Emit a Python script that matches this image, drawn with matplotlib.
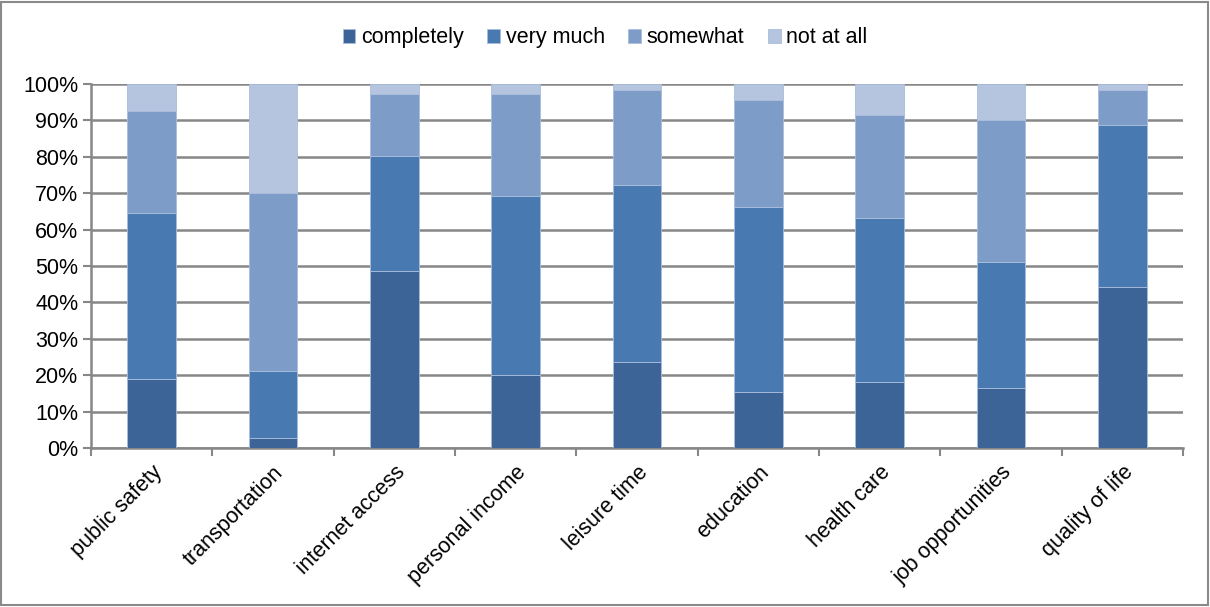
import matplotlib.pyplot as plt
import numpy as np
from matplotlib.patches import Rectangle
from matplotlib.ticker import FuncFormatter

plt.rcParams['font.family'] = ['Liberation Sans', 'DejaVu Sans']

categories = ['public safety', 'transportation', 'internet access', 'personal income',
              'leisure time', 'education', 'health care', 'job opportunities', 'quality of life']
series = ['completely', 'very much', 'somewhat', 'not at all']

# shares (%) per category, stacked bottom to top
completely = [18.9, 2.7, 48.6, 20.1, 23.5, 15.4, 18.0, 16.5, 44.2]
very_much = [45.6, 18.5, 31.7, 49.2, 48.6, 50.8, 45.3, 34.7, 44.6]
somewhat = [28.1, 48.8, 16.8, 27.8, 26.3, 29.5, 28.1, 38.9, 9.6]
not_at_all = [7.4, 30.0, 2.9, 2.9, 1.6, 4.3, 8.6, 9.9, 1.6]

colors = ['#3D6497', '#4879B1', '#7E9CC8', '#B5C4DF']
fs = 15.5

fig = plt.figure(figsize=(12.1, 6.07), dpi=100)
ax = fig.add_axes([0.0752, 0.262, 0.9025, 0.5998])

x = np.arange(len(categories))
bottom = np.zeros(len(categories))
for name, vals, c in zip(series, [completely, very_much, somewhat, not_at_all], colors):
    vals = np.array(vals)
    ax.bar(x, vals, width=0.4, bottom=bottom, color=c, label=name,
           edgecolor='#A9BEDC', linewidth=0.6, zorder=3)
    bottom += vals

ax.set_ylim(0, 100)
ax.set_xlim(-0.5, len(categories) - 0.5)
ax.set_yticks(np.arange(0, 101, 10))
ax.yaxis.set_major_formatter(FuncFormatter(lambda v, p: '%d%%' % v))
ax.yaxis.grid(True, color='#878787', linewidth=1.8, zorder=0)

# category labels between boundary ticks
ax.set_xticks(np.arange(-0.5, len(categories), 1.0))
ax.set_xticklabels([])
ax.set_xticks(x, minor=True)
ax.set_xticklabels(categories, minor=True, rotation=45, ha='right',
                   rotation_mode='anchor', fontsize=fs)
ax.tick_params(axis='x', which='minor', length=0, pad=10)
ax.tick_params(axis='x', which='major', length=6, width=1.5, color='#878787')
ax.tick_params(axis='y', length=6, width=1.5, color='#878787', labelsize=fs, pad=3)

for side in ['top', 'right']:
    ax.spines[side].set_visible(False)
for side in ['left', 'bottom']:
    ax.spines[side].set_color('#878787')
    ax.spines[side].set_linewidth(1.8)

fig.legend(loc='upper center', bbox_to_anchor=(0.5, 0.987), ncol=4, frameon=False,
           fontsize=fs, handlelength=0.6, handleheight=0.6, handletextpad=0.25,
           columnspacing=1.1)

# outer frame around the chart
fig.patches.append(Rectangle((0.001, 0.003), 0.997, 0.994, transform=fig.transFigure,
                             fill=False, edgecolor='#8A8A8A', linewidth=1.5))

plt.savefig('out.png', dpi=100)
